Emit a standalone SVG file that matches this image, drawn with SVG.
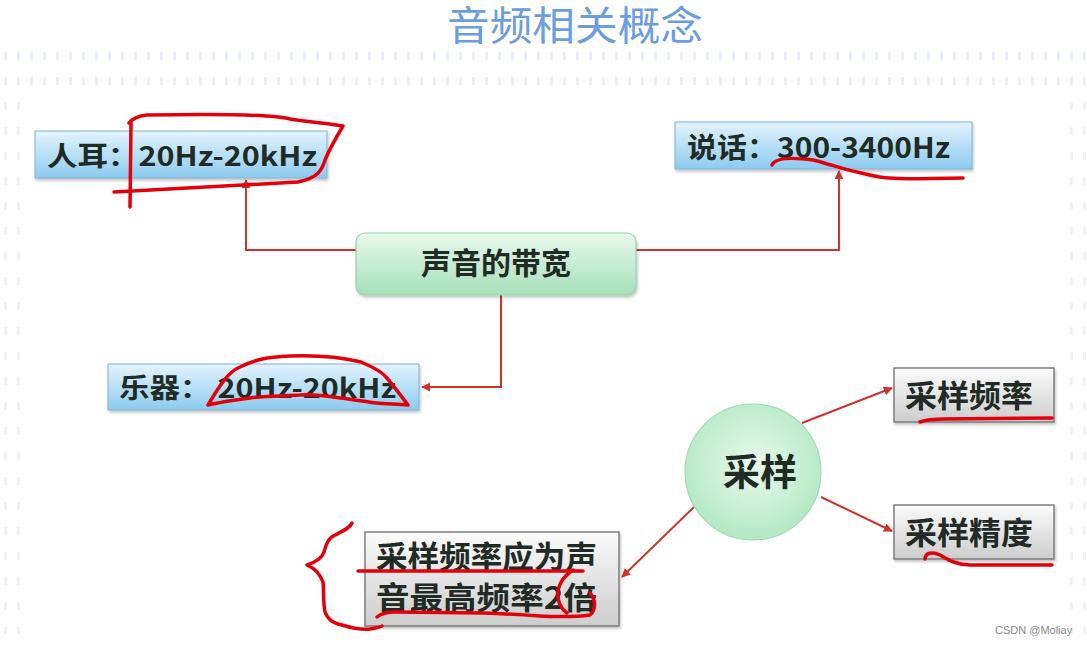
<svg xmlns="http://www.w3.org/2000/svg" width="1087" height="645" viewBox="0 0 1087 645">
<defs>
<style>
.t{font-family:"Noto Sans CJK SC","Noto Sans",sans-serif;font-weight:bold;fill:#1f2b24}
.conn{fill:none;stroke:#d2322a;stroke-width:2}
.ink{fill:none;stroke:#e4000a;stroke-width:3.5;stroke-linecap:round;stroke-linejoin:round}
.blue{fill:url(#gBlue);stroke:#7db3d6;stroke-width:1}
.gray{fill:url(#gGray);stroke:#777777;stroke-width:1.4}
</style>
<linearGradient id="gBlue" x1="0" y1="0" x2="0" y2="1">
<stop offset="0" stop-color="#e4f4fd"/><stop offset="1" stop-color="#8ccbef"/>
</linearGradient>
<linearGradient id="gGreen" x1="0" y1="0" x2="0" y2="1">
<stop offset="0" stop-color="#e8f8ec"/><stop offset="1" stop-color="#a6e1b9"/>
</linearGradient>
<linearGradient id="gGray" x1="0" y1="0" x2="0" y2="1">
<stop offset="0" stop-color="#fbfbfb"/><stop offset="1" stop-color="#cdcdcd"/>
</linearGradient>
<radialGradient id="gCirc" cx="0.5" cy="0.45" r="0.55">
<stop offset="0" stop-color="#eaf9ee"/><stop offset="1" stop-color="#b3e9c3"/>
</radialGradient>
<filter id="sh" x="-10%" y="-10%" width="130%" height="140%">
<feDropShadow dx="1" dy="2" stdDeviation="1.5" flood-color="#000" flood-opacity="0.25"/>
</filter>
<marker id="arr" viewBox="0 0 10 10" refX="9" refY="5" markerWidth="4.5" markerHeight="4.5" orient="auto-start-reverse">
<path d="M0,0 L10,5 L0,10 z" fill="#d2322a"/>
</marker>
<pattern id="ticks" x="0" y="0" width="13" height="25" patternUnits="userSpaceOnUse">
<rect x="4" y="2" width="3" height="8" fill="#eaf0fa"/>
</pattern>
</defs>
<rect width="1087" height="645" fill="#ffffff"/>
<rect x="0" y="50" width="1087" height="38" fill="url(#ticks)"/>
<rect x="0" y="100" width="22" height="534" fill="url(#ticks)" opacity="0.8"/>
<rect x="1070" y="100" width="17" height="534" fill="url(#ticks)" opacity="0.8"/>

<text x="575" y="40" text-anchor="middle" font-family="Noto Sans CJK SC, sans-serif" font-size="40" fill="#6b9de0" textLength="256" lengthAdjust="spacingAndGlyphs">音频相关概念</text>

<g id="connectors">
<path class="conn" d="M356,250 H246 V180" marker-end="url(#arr)"/>
<path class="conn" d="M636,250 H839 V171" marker-end="url(#arr)"/>
<path class="conn" d="M501,295 V387 H422" marker-end="url(#arr)"/>
<path class="conn" d="M802,423 L892,388" marker-end="url(#arr)"/>
<path class="conn" d="M821,497 L892,531" marker-end="url(#arr)"/>
<path class="conn" d="M694,507 L622,577" marker-end="url(#arr)"/>
</g>

<g id="node-ear">
<rect class="blue" x="35" y="131" width="292" height="47" filter="url(#sh)"/>
<text class="t" x="47" y="166" font-size="27" textLength="270" lengthAdjust="spacingAndGlyphs">人耳：20Hz-20kHz</text>
</g>
<g id="node-speech">
<rect class="blue" x="675" y="122" width="297" height="47" filter="url(#sh)"/>
<text class="t" x="687" y="158" font-size="28" textLength="263" lengthAdjust="spacingAndGlyphs">说话：300-3400Hz</text>
</g>
<g id="node-bandwidth">
<rect x="356" y="233" width="280" height="62" rx="9" fill="url(#gGreen)" stroke="#98d2aa" stroke-width="1.2" filter="url(#sh)"/>
<text class="t" x="496" y="274" font-size="30" text-anchor="middle">声音的带宽</text>
</g>
<g id="node-instrument">
<rect class="blue" x="108" y="364" width="311" height="46" filter="url(#sh)"/>
<text class="t" x="119" y="398" font-size="27" textLength="277" lengthAdjust="spacingAndGlyphs">乐器： 20Hz-20kHz</text>
</g>
<g id="node-sampling">
<circle cx="753" cy="472" r="68" fill="url(#gCirc)" stroke="#a3d9b3" stroke-width="1.2"/>
<text class="t" x="760" y="486" font-size="37" text-anchor="middle">采样</text>
</g>
<g id="node-rate">
<rect class="gray" x="894" y="368" width="160" height="54" filter="url(#sh)"/>
<text class="t" x="905" y="407" font-size="31" textLength="128" lengthAdjust="spacingAndGlyphs">采样频率</text>
</g>
<g id="node-precision">
<rect class="gray" x="894" y="505" width="160" height="54" filter="url(#sh)"/>
<text class="t" x="905" y="544" font-size="31" textLength="128" lengthAdjust="spacingAndGlyphs">采样精度</text>
</g>
<g id="node-nyquist">
<rect class="gray" x="365" y="532" width="254" height="94" filter="url(#sh)"/>
<text class="t" x="376" y="568" font-size="31" textLength="221" lengthAdjust="spacingAndGlyphs">采样频率应为声</text>
<text class="t" x="376" y="609" font-size="31" textLength="221" lengthAdjust="spacingAndGlyphs">音最高频率2倍</text>
</g>

<g id="annotations">
<path class="ink" d="M131,123 L130,207"/>
<path class="ink" d="M114,192 C150,190 220,186 298,182 C318,178 322,170 325,160 C330,148 337,136 343,126 C320,122 300,121 290,119 C270,114 200,114 147,115 C138,116 132,119 129,123"/>
<path class="ink" d="M772,165 C775,158 790,157 813,160 C830,164 845,170 857,172 C870,175 880,178 890,178 C910,180 930,178 963,178"/>
<path class="ink" d="M208,405 C220,385 228,372 240,367 C255,360 265,357 290,356 C315,355 340,357 361,362 C375,368 382,372 386,377 C393,385 398,392 408,405 C395,404 385,404 376,403 C360,401 350,399 340,398 C320,395 310,394 300,395 C280,396 265,396 250,398 C235,400 220,402 208,405"/>
<path class="ink" d="M920,422 C928,419 935,419 945,419 L1052,418"/>
<path class="ink" d="M925,559 C925,553 932,551 940,555 C950,561 958,565 970,565 L1052,565"/>
<path class="ink" d="M352,523 C350,528 343,531 335,535 C328,538 326,545 324,552 C322,558 316,562 307,565 C314,568 320,574 323,582 C324,592 323,602 325,612 C328,620 333,623 342,625 C352,628 362,630 370,629 C376,628 380,627 382,626"/>
<path class="ink" d="M358,571 L583,571"/>
<path class="ink" d="M377,617 C382,613 388,612 395,612 L483,613 C510,614 525,615 540,616 C560,617 575,617 590,615 C596,610 596,600 590,593"/>
<path class="ink" d="M573,570 C565,575 560,582 558,590 C557,600 560,608 567,613"/>
</g>

<text x="995" y="634" font-family="Liberation Sans, sans-serif" font-size="11" fill="#8a8a8a">CSDN @Moliay</text>
</svg>
